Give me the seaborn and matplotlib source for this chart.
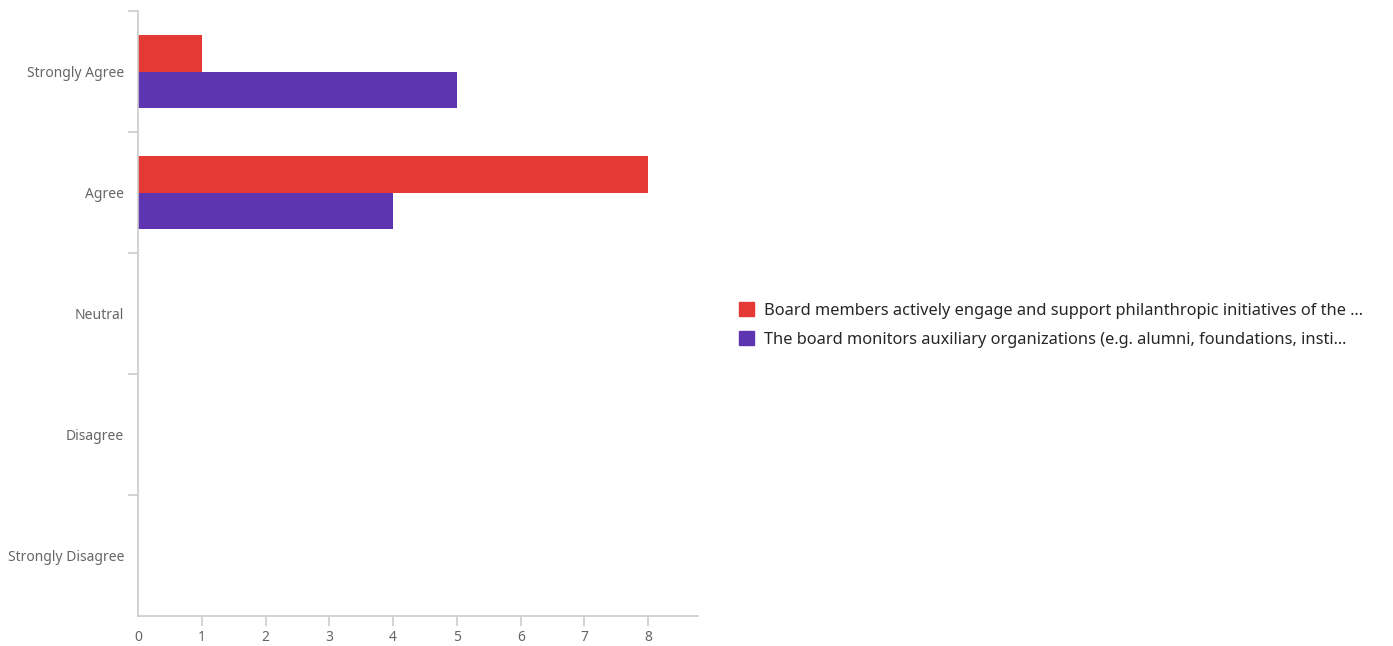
import pandas as pd
import matplotlib
matplotlib.use("Agg")
import matplotlib.pyplot as plt
import seaborn as sns
from matplotlib.patches import Patch
from matplotlib.ticker import FixedLocator

categories = ["Strongly Agree", "Agree", "Neutral", "Disagree", "Strongly Disagree"]
series_names = [
    "Board members actively engage and support philanthropic initiatives of the ...",
    "The board monitors auxiliary organizations (e.g. alumni, foundations, insti...",
]
engage_counts = [1, 8, 0, 0, 0]
monitor_counts = [5, 4, 0, 0, 0]
x_ticks = [0, 1, 2, 3, 4, 5, 6, 7, 8]
colors = ["#E53935", "#5E35B1"]

rows = []
for cat, a, b in zip(categories, engage_counts, monitor_counts):
    rows.append({"answer": cat, "question": series_names[0], "count": a})
    rows.append({"answer": cat, "question": series_names[1], "count": b})
df = pd.DataFrame(rows)

sns.set_style("white")
plt.rcParams["font.family"] = ["Noto Sans", "DejaVu Sans"]

fig = plt.figure(figsize=(13.93, 6.46), dpi=100)
ax = fig.add_axes([138 / 1393, 1 - 616 / 646, (698 - 138) / 1393, (616 - 11) / 646])

sns.barplot(data=df, y="answer", x="count", hue="question", order=categories,
            hue_order=series_names, palette=colors, orient="h", width=0.61,
            saturation=1, errorbar=None, legend=False, linewidth=0, ax=ax)

ax.set_xlim(0, 8.78)
ax.set_ylim(4.5, -0.5)
ax.set_xlabel("")
ax.set_ylabel("")
ax.set_xticks(x_ticks)
ax.set_xticklabels([str(t) for t in x_ticks])
# separator ticks between answer bands (none at the very bottom)
ax.yaxis.set_minor_locator(FixedLocator([i - 0.5 for i in range(len(categories))]))

grey = "#cccccc"
for side in ["top", "right"]:
    ax.spines[side].set_visible(False)
for side in ["left", "bottom"]:
    ax.spines[side].set_color(grey)
    ax.spines[side].set_linewidth(1.2)

ax.tick_params(axis="y", which="both", left=True)
ax.tick_params(axis="x", which="major", bottom=True)
ax.tick_params(axis="y", which="major", length=0, pad=10, labelsize=10, labelcolor="#666666")
ax.tick_params(axis="y", which="minor", length=7, color=grey, width=1.2)
ax.tick_params(axis="x", which="major", length=7, color=grey, width=1.2, pad=3,
               labelsize=10, labelcolor="#666666")
ax.xaxis.get_major_ticks()[0].tick1line.set_visible(False)

handles = [Patch(facecolor=c, edgecolor=c) for c in colors]
fig.legend(handles, series_names, loc="center left", bbox_to_anchor=(0.52, 0.497),
           frameon=False, fontsize=11.8, handlelength=0.9, handleheight=0.9,
           handletextpad=0.6, labelspacing=0.75)

fig.savefig("out.png", dpi=100)
